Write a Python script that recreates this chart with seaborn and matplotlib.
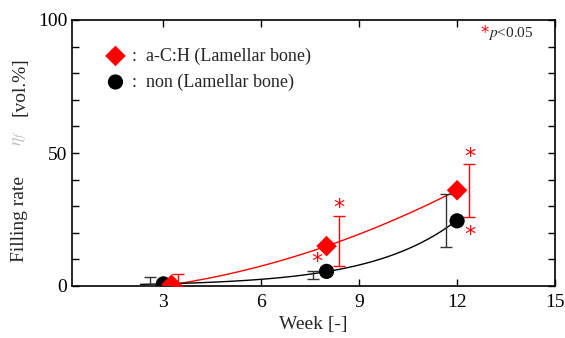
import numpy as np
import matplotlib
matplotlib.use("Agg")
import matplotlib.pyplot as plt
import seaborn as sns
import pandas as pd

# data
ach_x = [3.25, 8.0, 12.0]
ach_y = [0.5, 15.0, 36.0]
ach_err_x = [3.45, 8.38, 12.35]
ach_err_lo = [0.5, 7.5, 10.0]
ach_err_hi = [4.0, 11.5, 10.0]
non_x = [3.0, 8.0, 12.0]
non_y = [0.8, 5.5, 24.5]
non_err_x = [2.6, 7.6, 11.65]
non_err_lo = [0.8, 3.0, 10.0]
non_err_hi = [2.5, 0.0, 10.0]
star_x = [8.38, 7.7, 12.4, 12.4]
star_y = [29.5, 9.0, 48.5, 19.0]
labels = ["a-C:H (Lamellar bone)", "non (Lamellar bone)"]

sns.set_theme(style="ticks")
plt.rcParams['font.family'] = ['Liberation Serif', 'DejaVu Serif']
plt.rcParams['mathtext.fontset'] = 'stix'

W, H = 565, 338
fig = plt.figure(figsize=(W/100, H/100), dpi=100)
ax = fig.add_axes([72/W, 1-286/H, (555-72)/W, (286-20)/H])

# fitted trend curves
xs = np.linspace(3.3, 12, 100)
pr = np.polyfit(ach_x, ach_y, 2)
ax.plot(xs, np.polyval(pr, xs), color="red", lw=1.0, zorder=2)
xs2 = np.linspace(2.3, 12, 100)
pn = np.polyfit(non_x, np.log(non_y), 1)
ax.plot(xs2, np.exp(np.polyval(pn, xs2)), color="black", lw=1.0, zorder=2)

# error bars
ax.errorbar(ach_err_x, ach_y, yerr=[ach_err_lo, ach_err_hi], fmt="none",
            ecolor="red", elinewidth=1.0, capsize=4, capthick=1.0, zorder=3)
ax.errorbar(non_err_x, non_y, yerr=[non_err_lo, non_err_hi], fmt="none",
            ecolor="#333333", elinewidth=1.0, capsize=4, capthick=1.0, zorder=3)

df_a = pd.DataFrame({"week": ach_x, "rate": ach_y})
df_n = pd.DataFrame({"week": non_x, "rate": non_y})
sns.scatterplot(data=df_n, x="week", y="rate", ax=ax, marker="o", s=120,
                color="black", edgecolor="none", zorder=4, legend=False)
sns.scatterplot(data=df_a, x="week", y="rate", ax=ax, marker="D", s=110,
                color="red", edgecolor="none", zorder=5, legend=False)

for sx, sy in zip(star_x, star_y):
    ax.text(sx, sy, "*", color="red", fontsize=16, ha="center", va="center",
            family="DejaVu Sans")

# legend (manual)
ax.scatter([0.09], [0.865], transform=ax.transAxes, marker="D", s=110,
           color="red", edgecolor="none", clip_on=False)
ax.scatter([0.09], [0.767], transform=ax.transAxes, marker="o", s=120,
           color="black", edgecolor="none", clip_on=False)
ax.text(0.125, 0.865, ":  " + labels[0], transform=ax.transAxes, fontsize=13,
        va="center", ha="left")
ax.text(0.125, 0.767, ":  " + labels[1], transform=ax.transAxes, fontsize=13,
        va="center", ha="left")

# p<0.05 note
ax.text(0.855, 0.952, "*", transform=ax.transAxes, color="red", fontsize=12,
        ha="center", va="center", family="DejaVu Sans")
ax.text(0.862, 0.948, r"$\it{p}$<0.05", transform=ax.transAxes, fontsize=11,
        ha="left", va="center")

ax.set_xlim(0.2, 15)
ax.set_ylim(0, 100)
ax.set_xticks([3, 6, 9, 12, 15])
ax.set_yticks([0, 50, 100])
ax.set_yticks(np.arange(10, 100, 10), minor=True)
ax.tick_params(axis="both", which="both", direction="in", top=True, right=True,
               labelsize=14, width=1.0, colors="black")
ax.tick_params(axis="both", which="major", length=5)
ax.tick_params(axis="y", which="minor", length=5)
ax.tick_params(axis="x", which="minor", bottom=False, top=False)
ax.tick_params(axis="x", pad=6)
for s in ax.spines.values():
    s.set_linewidth(1.2)
    s.set_color("black")

ax.set_xlabel("Week [-]", fontsize=14, labelpad=3)
ax.set_ylabel("")

# y label built from pieces (eta drawn in light grey)
fig.text(20/W, 1-262/H, "Filling rate", rotation=90, fontsize=14,
         ha="center", va="bottom")
fig.text(20/W, 1-138/H, r"$\eta_f$", rotation=90, fontsize=13,
         ha="center", va="center", color="#c0c0c0")
fig.text(20/W, 1-57/H, "[vol.%]", rotation=90, fontsize=14,
         ha="center", va="top")

ax.set_facecolor("white")
fig.patch.set_facecolor("white")

fig.savefig("out.png", dpi=100)
